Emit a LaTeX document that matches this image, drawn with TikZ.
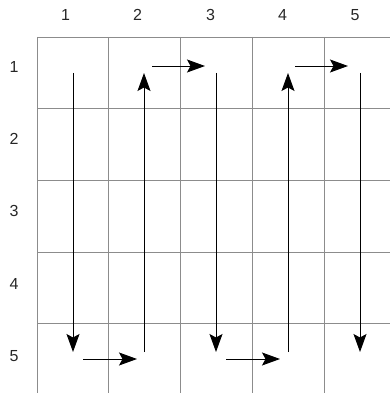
\documentclass[tikz,border=0pt]{standalone}
\usepackage{fontspec}
\setmainfont{Liberation Sans}
\usepackage{xcolor}
\definecolor{gridgray}{RGB}{140,140,140}
\usetikzlibrary{arrows.meta}

\tikzset{
  gridline/.style={gridgray, line width=0.9pt},
  walk/.style={black, line width=0.9pt, -{Stealth[length=18pt, width=13pt, inset=3.5pt]}},
  idx/.style={font=\fontsize{16}{18}\selectfont, text=black!85}
}

\begin{document}
\begin{tikzpicture}[x=1pt, y=-1pt]
  \useasboundingbox (0,0) rectangle (390,393);

  % Grid lines
  \draw[gridline] (37,37) -- (390,37);
  \draw[gridline] (37,108) -- (390,108);
  \draw[gridline] (37,180) -- (390,180);
  \draw[gridline] (37,252) -- (390,252);
  \draw[gridline] (37,323) -- (390,323);
  \draw[gridline] (37,37) -- (37,393);
  \draw[gridline] (108,37) -- (108,393);
  \draw[gridline] (180,37) -- (180,393);
  \draw[gridline] (252,37) -- (252,393);
  \draw[gridline] (324,37) -- (324,393);

  % --- Column numbers ---
  \node[idx] (c1) at (65.5,15) {1};
  \node[idx] (c2) at (137.5,15) {2};
  \node[idx] (c3) at (210.5,15) {3};
  \node[idx] (c4) at (282.5,15) {4};
  \node[idx] (c5) at (355,15) {5};

  % --- Row numbers ---
  \node[idx] (r1) at (14,67) {1};
  \node[idx] (r2) at (14,139) {2};
  \node[idx] (r3) at (14,211) {3};
  \node[idx] (r4) at (14,284) {4};
  \node[idx] (r5) at (14,356) {5};

  % --- Snake path through the columns ---
  \draw[walk] (73,73) -- (73,352);
  \draw[walk] (83,359) -- (137,359);
  \draw[walk] (144,352) -- (144,73);
  \draw[walk] (152,66) -- (205,66);
  \draw[walk] (216,73) -- (216,352);
  \draw[walk] (226,359) -- (280,359);
  \draw[walk] (288,352) -- (288,73);
  \draw[walk] (295,66) -- (348,66);
  \draw[walk] (360,73) -- (360,352);
\end{tikzpicture}
\end{document}
